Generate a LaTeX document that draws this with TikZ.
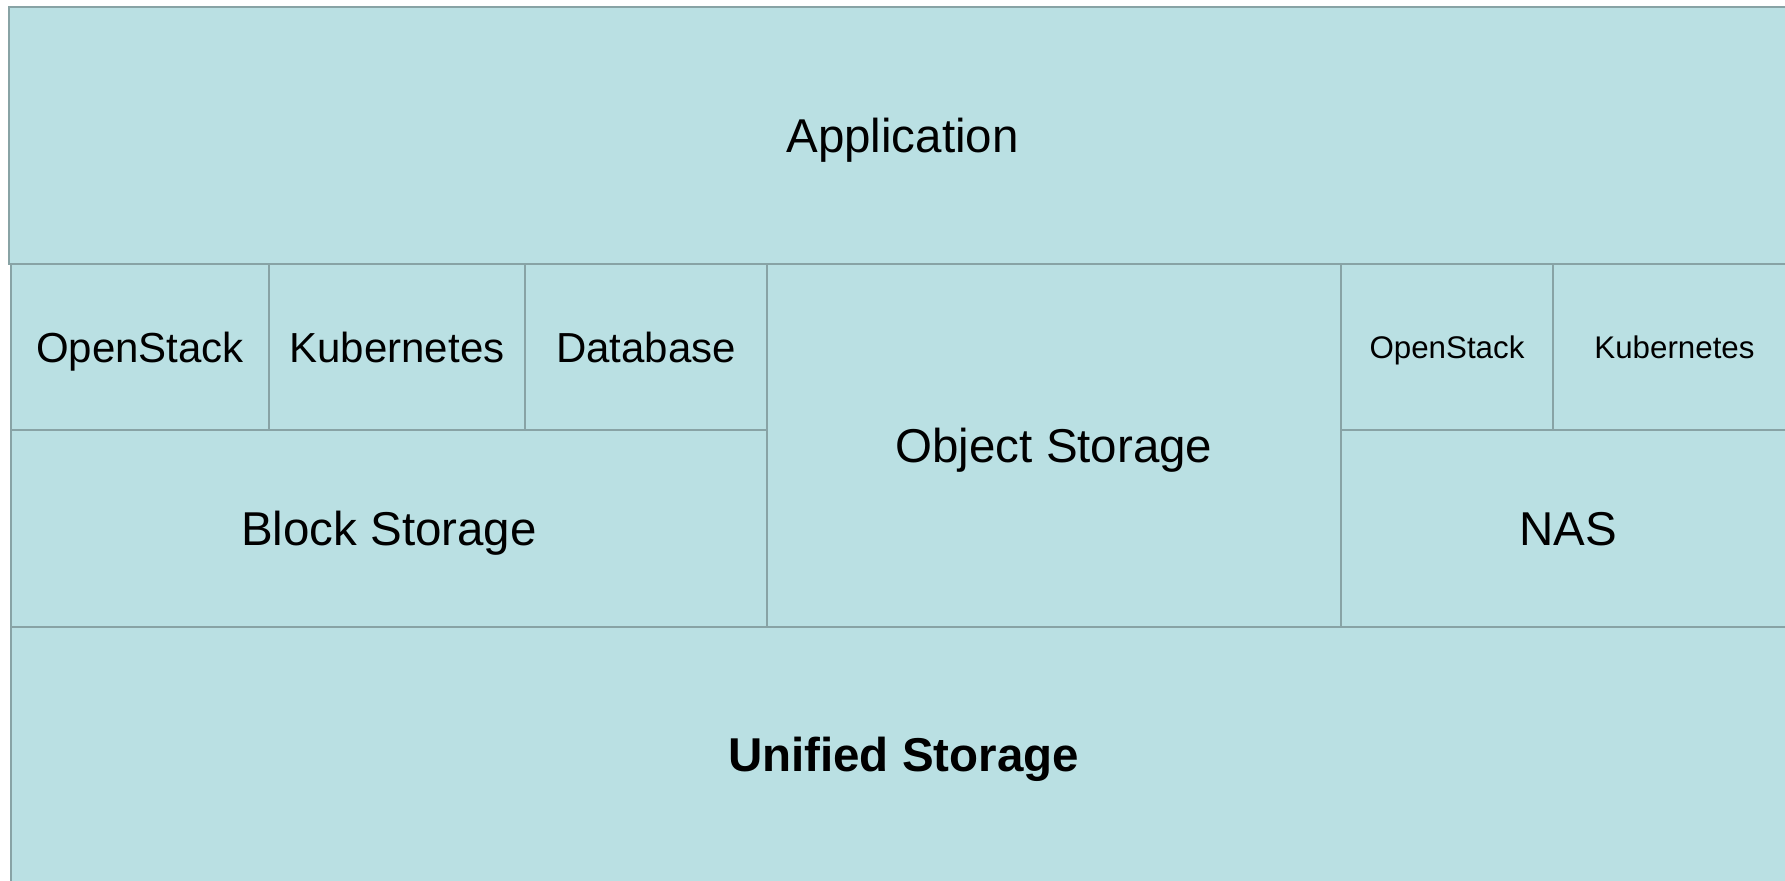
\documentclass[tikz,border=0pt]{standalone}
\usepackage{fontspec}
\setmainfont{Liberation Sans}

\definecolor{cellfill}{HTML}{BAE0E3}
\definecolor{cellline}{HTML}{88A3A5}

\tikzset{
  cell/.style={draw=cellline, fill=cellfill, line width=1.2pt, rectangle,
    inner sep=0pt, text height=17pt, text depth=0pt,
    font=\fontsize{23.75}{28}\selectfont},
  smallcell/.style={cell, text height=15pt, font=\fontsize{21}{25}\selectfont},
  tinycell/.style={cell, text height=11.2pt, font=\fontsize{15.65}{19}\selectfont},
}

\begin{document}
\begin{tikzpicture}[x=0.5pt,y=-0.5pt]
      \clip (0,0) rectangle (1785,880) ;
      % top layer
      \node[cell, minimum width=893.5pt, minimum height=128.5pt] %
      (app) at (902.5,135.5) {Application} ;
      % block storage side
      \node[smallcell, minimum width=129pt, minimum height=83pt] %
      (osleft) at (140,347) {OpenStack} ;
      \node[smallcell, minimum width=128pt, minimum height=83pt] %
      (kubeleft) at (397,347) {Kubernetes} ;
      \node[smallcell, minimum width=121pt, minimum height=83pt] %
      (db) at (646,347) {Database} ;
      \node[cell, minimum width=378pt, minimum height=98.5pt] %
      (block) at (389,528.5) {Block Storage} ;
      % object storage
      \node[cell, minimum width=287pt, minimum height=181.5pt] %
      (object) at (1054,445.5) {Object Storage} ;
      % file side
      \node[tinycell, minimum width=106pt, minimum height=83pt] %
      (osright) at (1447,347) {OpenStack} ;
      \node[tinycell, minimum width=121.5pt, minimum height=83pt] %
      (kuberight) at (1674.5,347) {Kubernetes} ;
      \node[cell, minimum width=227.5pt, minimum height=98.5pt] %
      (nas) at (1568.5,528.5) {NAS} ;
      % bottom layer, runs off the page
      \node[cell, text depth=4.5pt, minimum width=892.5pt, minimum height=131.5pt] %
      (unified) at (903.5,758.5) {\bfseries Unified Storage} ;
    \end{tikzpicture}
\end{document}
